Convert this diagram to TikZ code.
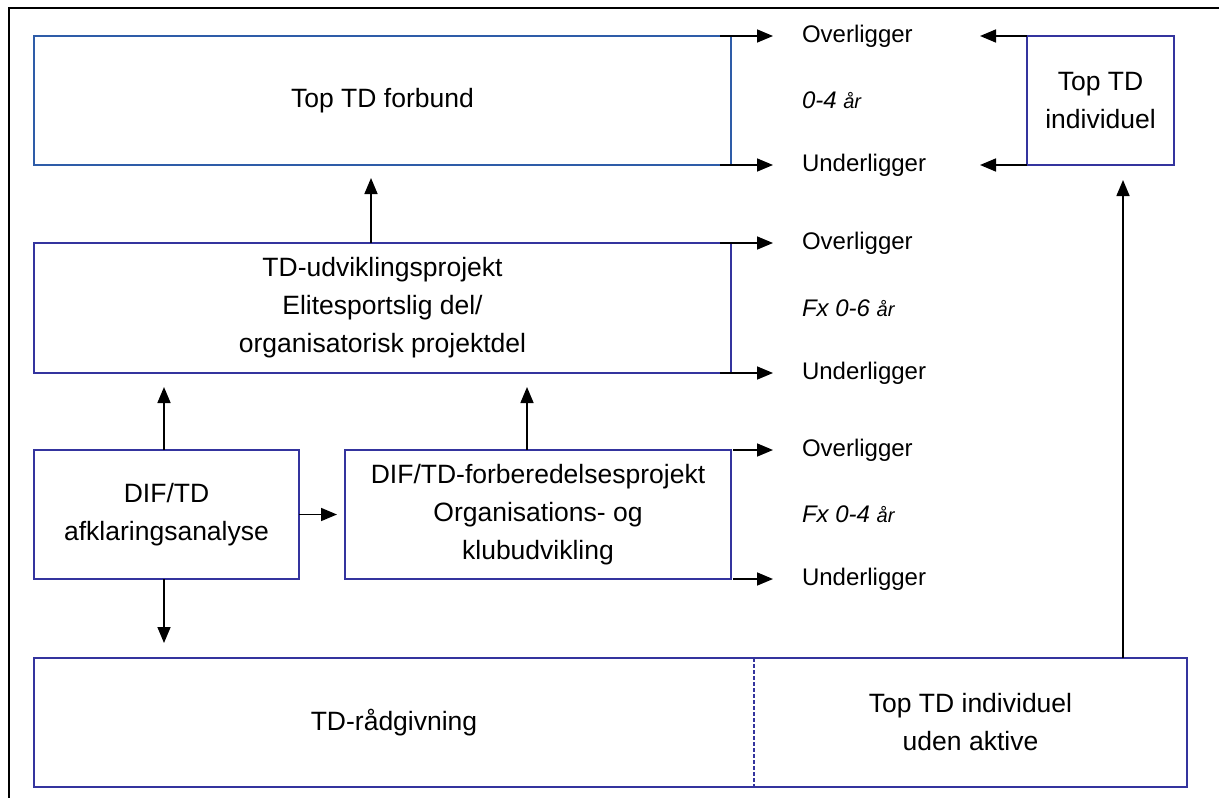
\documentclass[tikz,border=0pt]{standalone}
\usepackage{fontspec}
\setmainfont{Liberation Sans}
\usetikzlibrary{arrows.meta}
\definecolor{tdfblue}{RGB}{46,92,168}
\definecolor{boxblue}{RGB}{52,52,158}
\newcommand{\yrs}[1]{{\itshape #1 {\fontsize{10}{12}\selectfont år}}}
\begin{document}
\begin{tikzpicture}[x=0.5pt,y=-0.5pt,
  box/.style={draw=boxblue, line width=0.75pt, inner sep=0pt, outer sep=0pt, align=center, font=\fontsize{13.25}{19}\selectfont},
  lab/.style={inner sep=0pt, outer sep=0pt, anchor=west, font=\fontsize{12}{14}\selectfont},
  arr/.style={line width=0.8pt, -{Triangle[length=8pt,width=6.5pt]}},
]
\useasboundingbox[fill=white] (0,0) rectangle (1219,797);
\draw[line width=1pt] (9,900) -- (9,8) -- (1300,8);

\node[box, draw=tdfblue, minimum width=348.5pt, minimum height=64.5pt] (tdf) at (382.5,100.5) {Top TD forbund};
\node[box, minimum width=73.5pt, minimum height=64.5pt] (tdi) at (1100.5,100.5) {Top TD\\individuel};
\node[box, minimum width=348.5pt, minimum height=65pt] (tdu) at (382.5,308) {TD-udviklingsprojekt\\Elitesportslig del/\\organisatorisk projektdel};
\node[box, minimum width=132.5pt, minimum height=64.5pt] (dif) at (166.5,514.5) {DIF/TD\\afklaringsanalyse};
\node[box, minimum width=193pt, minimum height=64.5pt] (forb) at (538,514.5) {DIF/TD-forberedelsesprojekt\\Organisations- og\\klubudvikling};
\node[box, draw=none, minimum width=360pt, minimum height=64.5pt] (radg) at (394,722.5) {TD-rådgivning};
\node[box, draw=none, minimum width=216.5pt, minimum height=64.5pt] (utop) at (970.5,722.5) {Top TD individuel\\uden aktive};
\draw[boxblue, line width=0.75pt] (radg.north west) rectangle (utop.south east);
\draw[boxblue, line width=0.75pt, dash pattern=on 2pt off 1pt] (radg.north east) -- (radg.south east);

\node[lab] (o1) at (802,36) {Overligger};
\node[lab] (y1) at (802,100) {\yrs{0-4}};
\node[lab] (u1) at (802,165) {Underligger};
\node[lab] (o2) at (802,243) {Overligger};
\node[lab] (y2) at (802,308) {\yrs{Fx 0-6}};
\node[lab] (u2) at (802,373) {Underligger};
\node[lab] (o3) at (802,450) {Overligger};
\node[lab] (y3) at (802,514) {\yrs{Fx 0-4}};
\node[lab] (u3) at (802,579) {Underligger};

\draw[arr, shorten >=14.5pt] ([xshift=-5.5pt]tdf.north east) -- (o1.west);
\draw[arr, shorten >=14.5pt] ([xshift=-5.5pt]tdf.south east) -- (u1.west);
\draw[arr, shorten >=14.5pt] ([xshift=-5.5pt]tdu.north east) -- (o2.west);
\draw[arr, shorten >=14.5pt] ([xshift=-5.5pt]tdu.south east) -- (u2.west);
\draw[arr, shorten >=14.5pt] ([xshift=1pt]forb.north east) -- (o3.west);
\draw[arr, shorten >=14.5pt] ([xshift=1pt]forb.south east) -- (u3.west);

\coordinate (ti1) at (980,36);
\coordinate (ti2) at (980,165);
\draw[arr] (tdi.north west) -- (ti1);
\draw[arr] (tdi.south west) -- (ti2);

\draw[arr, shorten >=6.5pt] ([xshift=-5.75pt]tdu.north) -- ([xshift=-5.75pt]tdf.south);
\draw[arr, shorten >=7pt] ([xshift=-1.25pt]dif.north) -- ([xshift=-1.25pt]dif.north |- tdu.south);
\draw[arr, shorten >=7pt] ([xshift=-5.5pt]forb.north) -- ([xshift=-5.5pt]forb.north |- tdu.south);
\draw[arr, shorten >=4pt] (dif.east) -- (forb.west);
\draw[arr, shorten >=7.5pt] ([xshift=-1.25pt]dif.south) -- ([xshift=-1.25pt]dif.south |- radg.north);
\draw[arr, shorten >=7.5pt] ([xshift=76.25pt]utop.north) -- ([xshift=76.25pt]utop.north |- tdi.south);
\end{tikzpicture}
\end{document}
